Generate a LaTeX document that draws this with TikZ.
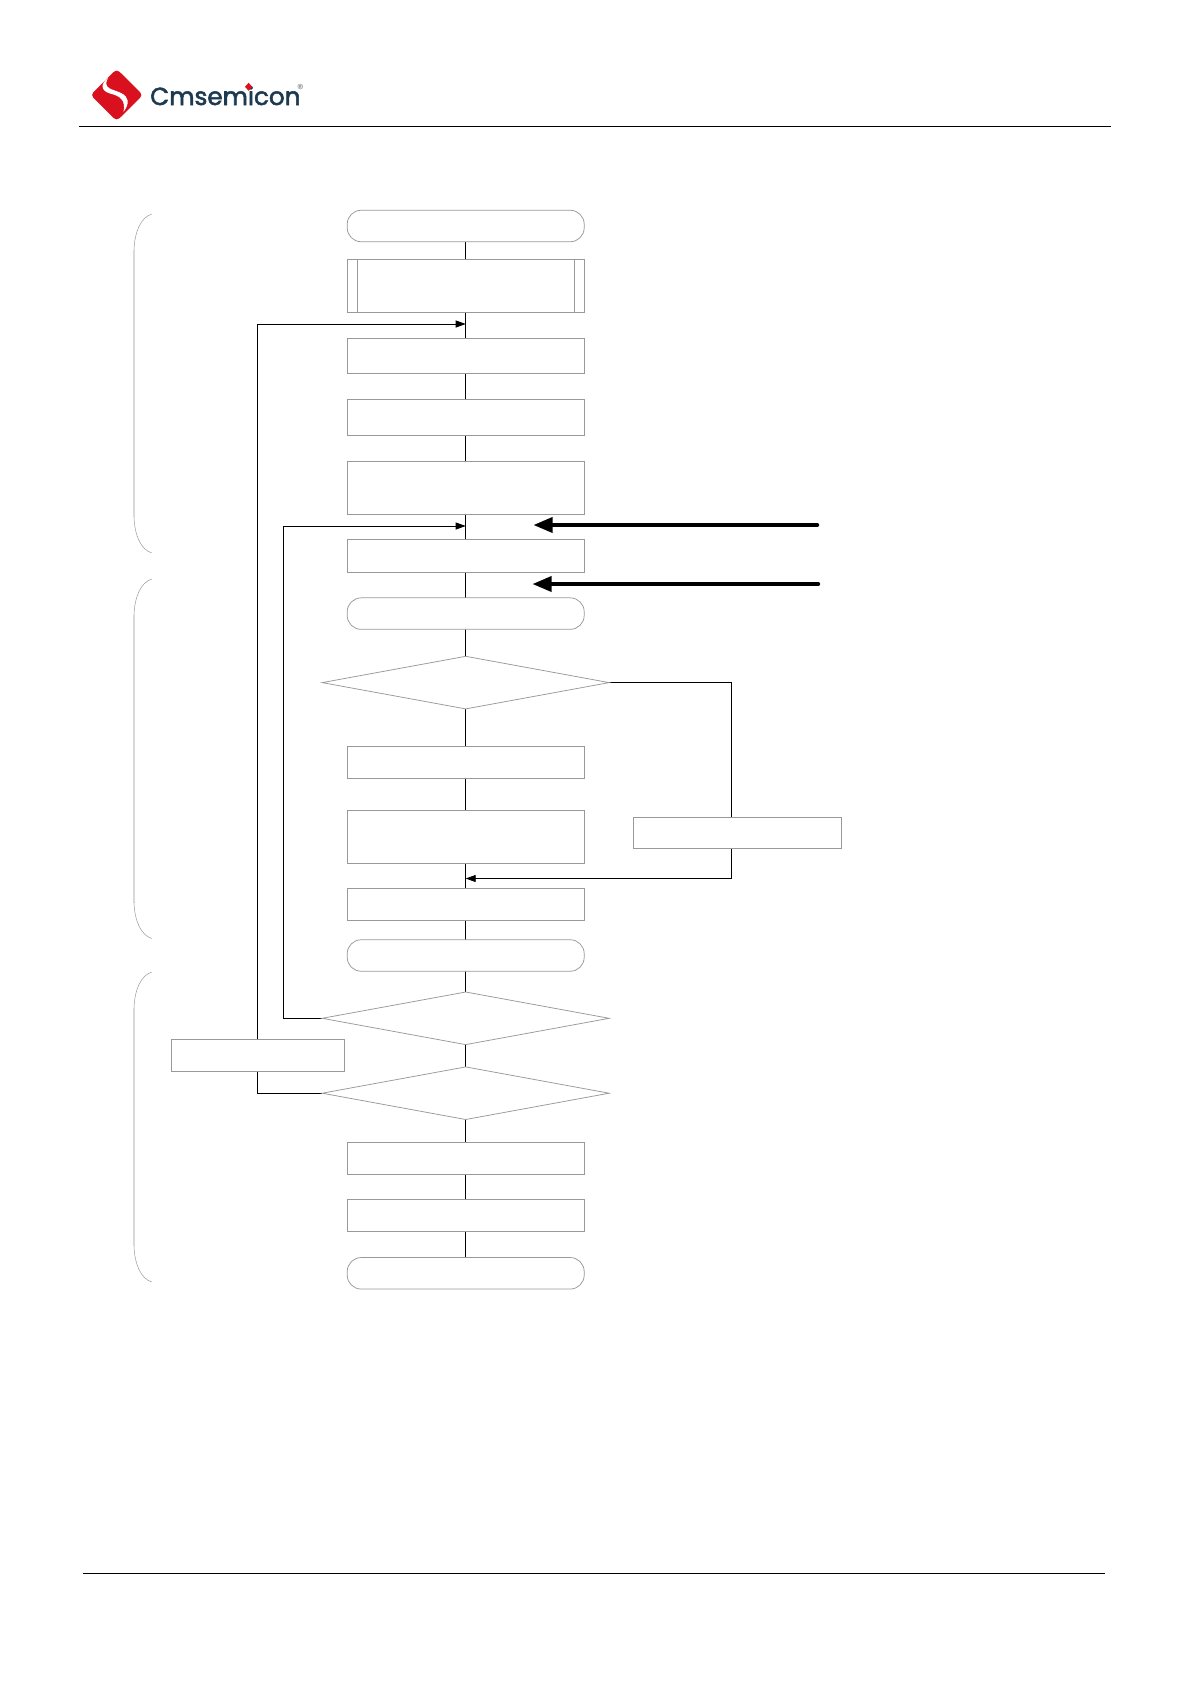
\documentclass[tikz,border=0pt]{standalone}
\usepackage{fontspec}
\usetikzlibrary{shapes.geometric,arrows.meta,backgrounds}
\newfontfamily\logofont{Poppins}[FakeBold=2.2]
\newfontfamily\regfont{Poppins}
\definecolor{logored}{HTML}{D9101E}
\definecolor{logonavy}{HTML}{1D3A50}
\definecolor{edgegray}{gray}{0.6}
\tikzset{
  boxbase/.style={draw=edgegray,line width=0.75pt,fill=white,inner sep=0pt,outer sep=0pt},
  procbox/.style={boxbase,rectangle,minimum width=237pt},
  termbox/.style={procbox,rounded corners=14pt},
  decide/.style={boxbase,diamond,shape aspect=5.45,minimum width=287pt,minimum height=52.6pt},
  flow/.style={black,line width=0.9pt},
  flowtip/.style={flow,-{Triangle[length=10pt,width=7pt]}},
  heavytip/.style={black,line width=3.4pt,line cap=round,-{Triangle[length=19pt,width=15pt]}},
  hrule/.style={black,line width=0.9pt},
  brace/.style={draw=edgegray,line width=0.5pt},
  bracebar/.style={draw=black!15,line width=1.2pt}
}
\newcommand{\groupbrace}[2]{%
  \draw[brace] (152,#1) .. controls (141,#1+3) and (134.5,#1+18) .. (134,#1+36);
  \draw[bracebar] (134,#1+36) -- (134,#2-36);
  \draw[brace] (134,#2-36) .. controls (134.5,#2-18) and (141,#2-3) .. (152,#2);
}
\begin{document}
\begin{tikzpicture}[x=1pt,y=-1pt]
\useasboundingbox (0,0) rectangle (1190,1684);

% header logo
\fill[logored,rounded corners=4pt] (90.5,95) -- (116.7,69) -- (143,95) -- (116.7,121) -- cycle;
\fill[white] (108,78) .. controls (100,84) and (101,91) .. (110,93.5)
  .. controls (120,96) and (126,100) .. (123.5,112)
  .. controls (130,103) and (129,97) .. (121,93)
  .. controls (113,89) and (102,89) .. (108,78) -- cycle;
\node[anchor=base west,inner sep=0pt,text=logonavy,font=\logofont\fontsize{24.6}{25}\selectfont] (brand) at (150,105) {Cmsemicon};
\fill[logored] (248.6,82.8) -- (252.2,86.8) -- (248.6,90.8) -- (245,86.8) -- cycle;
\node[inner sep=0pt,text=gray,font=\regfont\fontsize{13}{13}\selectfont] (reg) at (300.5,88.5) {®};
\draw[hrule] (78.5,126) -- (1110.5,126);
\draw[hrule] (83,1573.6) -- (1105,1573.6);

% brackets at the left
\groupbrace{214}{553}
\groupbrace{579}{938.5}
\groupbrace{972}{1282}

% main column
\node[termbox,minimum height=31.5pt] (start) at (465.7,226) {};
\node[procbox,minimum height=53.5pt] (sub) at (465.7,285.7) {};
\draw[edgegray,line width=0.7pt] (357,259) -- (357,312.5) (574,259) -- (574,312.5);
\node[procbox,minimum height=35.5pt] (b1) at (465.7,355.8) {};
\node[procbox,minimum height=35.5pt] (b2) at (465.7,417.3) {};
\node[procbox,minimum height=53.5pt] (b3) at (465.7,487.8) {};
\node[procbox,minimum height=32.4pt] (b4) at (465.7,556) {};
\node[termbox,minimum height=31.5pt] (t2) at (465.7,613.6) {};
\node[decide] (d1) at (465.7,682.6) {};
\node[procbox,minimum height=32pt] (b5) at (465.7,762.5) {};
\node[procbox,minimum height=52.5pt] (b6) at (465.7,837) {};
\node[procbox,minimum height=32pt] (b7) at (465.7,904) {};
\node[termbox,minimum height=31.5pt] (t3) at (465.7,955.5) {};
\node[decide] (d2) at (465.7,1018.3) {};
\node[decide] (d3) at (465.7,1093.2) {};
\node[procbox,minimum height=31.5pt] (b8) at (465.7,1158.2) {};
\node[procbox,minimum height=32pt] (b9) at (465.7,1215.7) {};
\node[termbox,minimum height=31.5pt] (t4) at (465.7,1273.3) {};
% side boxes
\node[boxbase,rectangle,minimum width=208pt,minimum height=31.5pt] (rbox) at (737.8,832.7) {};
\node[boxbase,rectangle,minimum width=172.5pt,minimum height=31.5pt] (lbox) at (258,1055.6) {};

% connection points
\coordinate (j1) at (465.7,324);
\coordinate (j2) at (465.7,526);
\coordinate (j3) at (465.7,878.5);
\coordinate (k1) at (257.7,324);
\coordinate (k2) at (283.5,526);
\coordinate (k3) at (731,878.5);
\coordinate (h1a) at (817.5,525);
\coordinate (h1b) at (533.5,525);
\coordinate (h2a) at (818.5,584);
\coordinate (h2b) at (532.5,584);

\begin{scope}[on background layer]
  \draw[flow] (start.south) -- (sub.north);
  \draw[flow] (sub.south) -- (b1.north);
  \draw[flow] (b1.south) -- (b2.north);
  \draw[flow] (b2.south) -- (b3.north);
  \draw[flow] (b3.south) -- (b4.north);
  \draw[flow] (b4.south) -- (t2.north);
  \draw[flow] (t2.south) -- (d1.north);
  \draw[flow] (d1.south) -- (b5.north);
  \draw[flow] (b5.south) -- (b6.north);
  \draw[flow] (b6.south) -- (b7.north);
  \draw[flow] (b7.south) -- (t3.north);
  \draw[flow] (t3.south) -- (d2.north);
  \draw[flow] (d2.south) -- (d3.north);
  \draw[flow] (d3.south) -- (b8.north);
  \draw[flow] (b8.south) -- (b9.north);
  \draw[flow] (b9.south) -- (t4.north);
  \draw[flowtip] (d3.west) -| (k1) -- (j1);
  \draw[flowtip] (d2.west) -| (k2) -- (j2);
  \draw[flowtip] (d1.east) -| (k3) -- (j3);
\end{scope}
\draw[heavytip] (h1a) -- (h1b);
\draw[heavytip] (h2a) -- (h2b);
\end{tikzpicture}
\end{document}
